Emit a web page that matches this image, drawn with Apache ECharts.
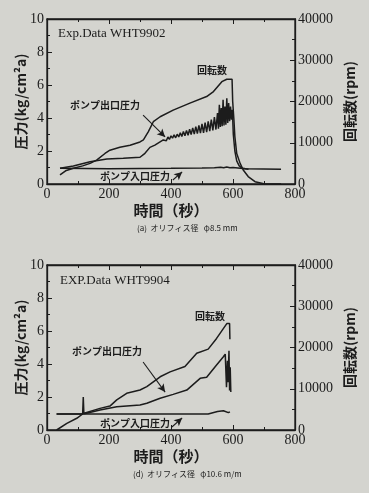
<!DOCTYPE html>
<html>
<head>
<meta charset="utf-8">
<script src="https://cdn.jsdelivr.net/npm/echarts@6/dist/echarts.min.js"></script>
<style>
html,body{margin:0;padding:0;background:#d4d4cf;}
#c{width:369px;height:493px;}
</style>
</head>
<body>
<div id="c"></div>
<script>
// ---------- Chart (a) WHT9902 ----------
const rpmT_a = [42, 60, 85, 115, 139, 160, 187, 203, 235, 268, 300, 311, 327, 343, 365, 407, 461, 515, 537, 564, 580, 597, 599, 603, 606, 612, 623, 633, 649, 671, 703, 755];
const rpmV_a = [2200, 3200, 3800, 4400, 5000, 5800, 7400, 8200, 8900, 9400, 10200, 10700, 12700, 15100, 16300, 17900, 19600, 21200, 22400, 24800, 25400, 25400, 20000, 15500, 11500, 7400, 5000, 3400, 1800, 560, 0, 0];

const outT_a = [42, 85, 139, 193, 246, 300, 316, 332, 348, 375,
  380, 385, 390, 395, 400, 405, 410, 415, 420, 425, 430, 435, 440, 445, 450, 455, 460, 465, 470, 475,
  480, 485, 490, 495, 500, 505, 510, 515, 520, 525, 530, 535, 540, 545, 550, 553, 556, 559, 562, 565,
  568, 571, 574, 577, 580, 583, 586, 589, 592, 595, 598, 601, 606, 612, 620, 630, 650];
const outV_a = [0.95, 1.09, 1.35, 1.52, 1.56, 1.62, 1.86, 2.22, 2.36, 2.67,
  2.72, 2.62, 2.85, 2.70, 2.92, 2.78, 2.98, 2.80, 3.02, 2.85, 3.10, 2.88, 3.18, 2.92, 3.25, 2.95, 3.32, 3.00, 3.40, 3.02,
  3.48, 3.05, 3.55, 3.08, 3.65, 3.10, 3.72, 3.15, 3.80, 3.20, 3.90, 3.25, 4.05, 3.30, 4.30, 3.35, 4.80, 3.45, 4.60, 3.50,
  5.10, 3.55, 4.70, 3.60, 5.20, 3.70, 4.90, 3.80, 4.70, 3.90, 4.50, 3.00, 2.00, 1.40, 1.10, 0.95, 0.90];

const inT_a = [42, 200, 400, 500, 540, 560, 570, 580, 590, 600, 640, 755];
const inV_a = [0.95, 0.93, 0.95, 0.97, 0.99, 1.02, 0.98, 1.03, 0.99, 1.00, 0.92, 0.89];

// ---------- Chart (d) WHT9904 ----------
const rpmT_d = [31, 64, 96, 117, 171, 203, 225, 257, 300, 322, 365, 397, 445, 483, 520, 547, 580, 589, 590];
const rpmV_d = [0, 1600, 2840, 4000, 5240, 5800, 7300, 8900, 9700, 10500, 12900, 14100, 15400, 18600, 19600, 22200, 25800, 25800, 22000];

const outT_d = [31, 115, 117, 119, 128, 171, 225, 300, 322, 365, 407, 451, 494, 515, 547, 569, 575, 577, 579, 582, 584, 587, 589, 591, 593];
const outV_d = [0.97, 0.97, 2.0, 0.99, 1.02, 1.21, 1.41, 1.52, 1.62, 1.92, 2.16, 2.42, 3.13, 3.20, 3.94, 4.44, 4.60, 4.70, 2.60, 4.20, 2.90, 4.80, 2.40, 3.80, 2.30];

const inT_d = [31, 200, 400, 520, 550, 569, 585, 590];
const inV_d = [0.97, 0.97, 0.97, 0.97, 1.12, 1.17, 1.05, 1.1];

// annotation arrows [t0, p0, t1, p1]
const arrowsA = [[310, 4.18, 381, 2.85], [406, 0.24, 436, 0.73]];
const arrowsD = [[310, 4.12, 381, 2.30], [403, 0.18, 436, 0.73]];

const pressTicks = [0, 2, 4, 6, 8, 10];
const rpmTicks = [0, 10000, 20000, 30000, 40000];
const timeTicks = [0, 200, 400, 600, 800];

function pairs(t, v) { return t.map((x, i) => [x, v[i]]); }

const INK = '#1c1c1c';
const SERIF = '"Liberation Serif","DejaVu Serif",serif';
const CJK = '"Noto Sans CJK JP","Noto Sans CJK SC",sans-serif';

function xAx(gi, pos) {
  return {
    type: 'value', gridIndex: gi, position: pos, min: timeTicks[0], max: timeTicks[timeTicks.length - 1], interval: 200,
    axisLine: {show: true, onZero: false, lineStyle: {color: INK, width: 1.3}},
    axisTick: {show: true, inside: true, length: 5, lineStyle: {color: INK}},
    minorTick: {show: true, splitNumber: 2, length: 3, lineStyle: {color: INK}},
    axisLabel: {show: pos === 'bottom', color: INK, fontFamily: SERIF, fontSize: 14, margin: 3},
    splitLine: {show: false},
    name: pos === 'bottom' ? '時間（秒）' : '', nameLocation: 'middle', nameGap: 19,
    nameTextStyle: {color: INK, fontFamily: CJK, fontSize: 15, fontWeight: 'bold'}
  };
}
function yAx(gi, pos) {
  const left = pos === 'left';
  return {
    type: 'value', gridIndex: gi, position: pos,
    min: 0, max: left ? pressTicks[pressTicks.length - 1] : rpmTicks[rpmTicks.length - 1], interval: left ? 2 : 10000,
    axisLine: {show: true, onZero: false, lineStyle: {color: INK, width: 1.3}},
    axisTick: {show: true, inside: true, length: 5, lineStyle: {color: INK}},
    minorTick: {show: true, splitNumber: 2, length: 3, lineStyle: {color: INK}},
    axisLabel: {color: INK, fontFamily: SERIF, fontSize: 14, margin: 3, formatter: v => String(v)},
    splitLine: {show: false},
    name: left ? '圧力(kg/cm²a)' : '回転数(rpm)', nameLocation: 'middle', nameRotate: 90,
    nameMoveOverlap: false,
    nameGap: left ? 19 : 48,
    nameTextStyle: {color: INK, fontFamily: CJK, fontSize: 14, fontWeight: 'bold'}
  };
}
function line(name, data, xi, yi, extra) {
  return Object.assign({
    type: 'line', name: name, data: data, xAxisIndex: xi, yAxisIndex: yi,
    showSymbol: false, symbol: 'none', smooth: false, animation: false,
    lineStyle: {color: INK, width: 1.5}
  }, extra || {});
}
function arrowMark(arr) {
  return {
    silent: true, symbol: ['none', 'arrow'], symbolSize: [6, 8], animation: false,
    label: {show: false},
    lineStyle: {color: INK, width: 1.1, type: 'solid'},
    data: arr.map(a => [{coord: [a[0], a[1]]}, {coord: [a[2], a[3]]}])
  };
}
function txt(x, y, s, font, size, weight, align) {
  return {type: 'text', left: x, top: y, silent: true,
    style: {text: s, fill: INK, font: (weight || 'normal') + ' ' + size + 'px ' + font, textAlign: align || 'left', textVerticalAlign: 'middle'}};
}

const gridBase = {left: 47, width: 248, height: 165, show: true, borderColor: INK, borderWidth: 1.3,
  backgroundColor: 'transparent', containLabel: false, outerBoundsMode: 'none'};

const chart = echarts.init(document.getElementById('c'), null, {renderer: 'canvas'});
chart.setOption({
  backgroundColor: '#d4d4cf',
  animation: false,
  grid: [
    Object.assign({}, gridBase, {top: 19}),
    Object.assign({}, gridBase, {top: 265})
  ],
  xAxis: [xAx(0, 'bottom'), xAx(0, 'top'), xAx(1, 'bottom'), xAx(1, 'top')],
  yAxis: [yAx(0, 'left'), yAx(0, 'right'), yAx(1, 'left'), yAx(1, 'right')],
  series: [
    line('ポンプ入口圧力', pairs(inT_a, inV_a), 0, 0, {markLine: arrowMark(arrowsA)}),
    line('ポンプ出口圧力', pairs(outT_a, outV_a), 0, 0),
    line('回転数', pairs(rpmT_a, rpmV_a), 0, 1),
    line('ポンプ入口圧力', pairs(inT_d, inV_d), 2, 2, {markLine: arrowMark(arrowsD)}),
    line('ポンプ出口圧力', pairs(outT_d, outV_d), 2, 2),
    line('回転数', pairs(rpmT_d, rpmV_d), 2, 3)
  ],
  graphic: [
    txt(58, 27, 'Exp.Data WHT9902', SERIF, 13),
    txt(197, 65, '回転数', CJK, 10, 'bold'),
    txt(70, 100, 'ポンプ出口圧力', CJK, 10, 'bold'),
    txt(100, 171, 'ポンプ入口圧力', CJK, 10, 'bold'),
    txt(137, 224, '(a)  オリフィス径   φ8.5 mm', CJK, 8),
    txt(60, 274, 'EXP.Data WHT9904', SERIF, 13),
    txt(195, 311, '回転数', CJK, 10, 'bold'),
    txt(72, 346, 'ポンプ出口圧力', CJK, 10, 'bold'),
    txt(100, 418, 'ポンプ入口圧力', CJK, 10, 'bold'),
    txt(133, 470, '(d)  オリフィス径   φ10.6 m/m', CJK, 8)
  ]
});
</script>
</body>
</html>
